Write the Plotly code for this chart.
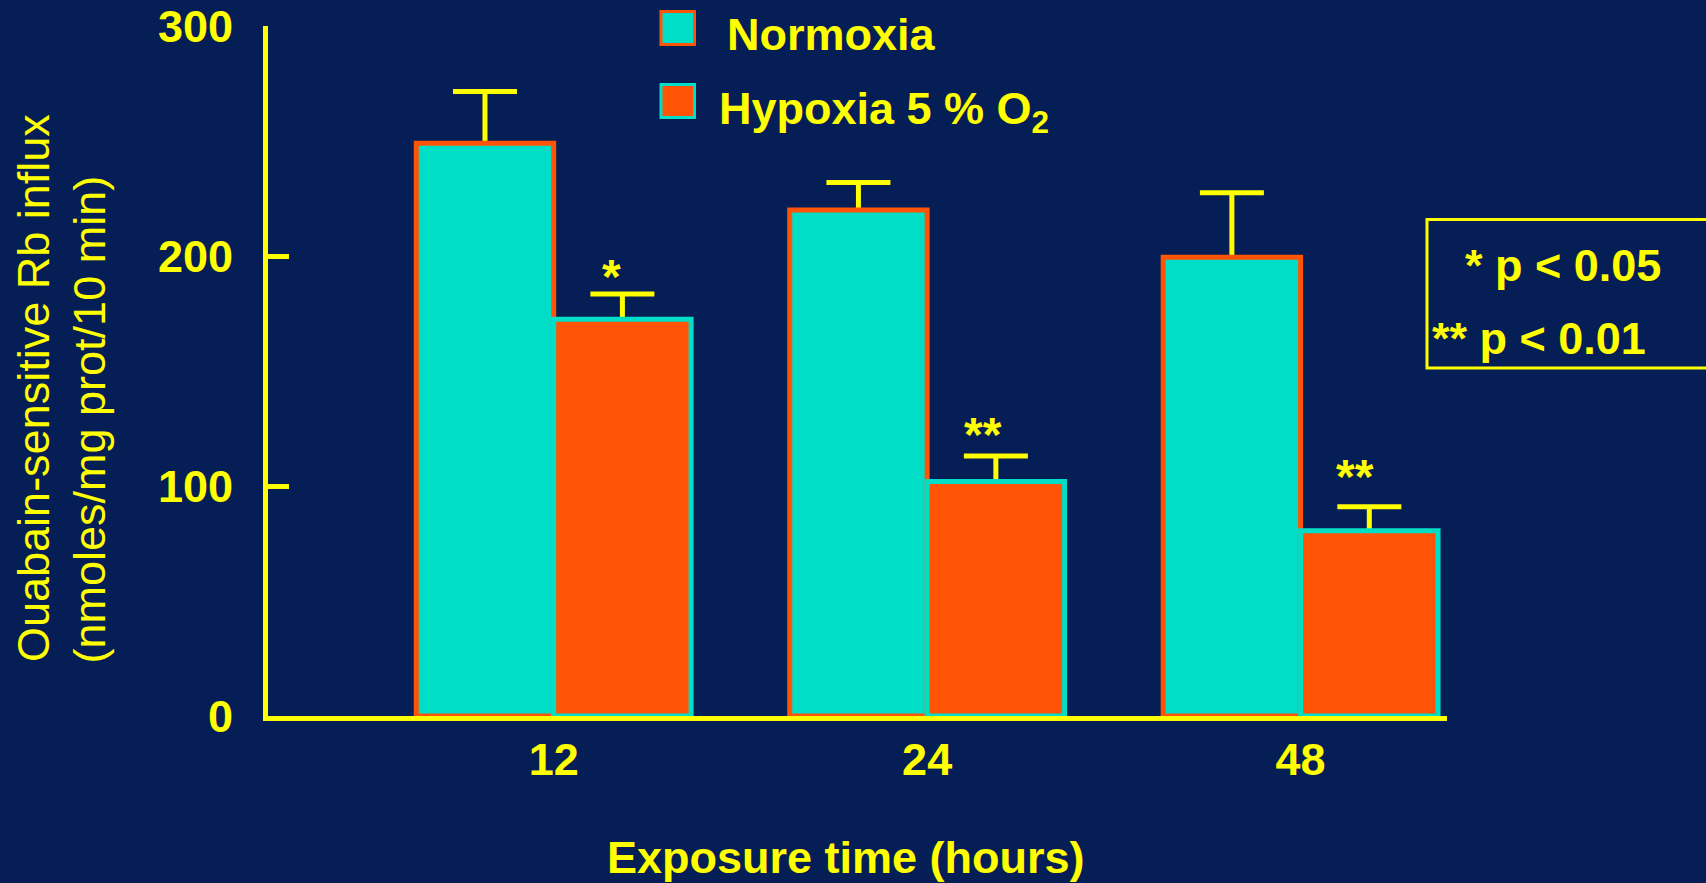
import numpy as np
import plotly.graph_objects as go

# ---- data -------------------------------------------------------------
times = ["12", "24", "48"]                 # exposure time (hours)
normoxia = [249, 220, 199.5]               # ouabain-sensitive Rb influx
normoxia_sem = [22.5, 12, 28]
hypoxia = [172.5, 102, 80.5]
hypoxia_sem = [11, 11, 10.5]
hypoxia_sig = ["*", "**", "**"]
y_ticks = [0, 100, 200, 300]

# ---- style ------------------------------------------------------------
BG = "#061E56"
CYAN = "#00DEC8"
ORANGE = "#FF5405"
YELLOW = "#FFFF00"
FONT = "Liberation Sans, Arial, Helvetica, sans-serif"

W, H = 1706, 883
ML, MR, MT, MB = 268, 259, 26, 167
PW = W - ML - MR
PH = H - MT - MB


def px(x):
    """page pixel x -> paper fraction"""
    return (x - ML) / PW


def py(y):
    """page pixel y -> paper fraction"""
    return (H - MB - y) / PH


pos = np.arange(len(times), dtype=float)
bw = 0.368
pos_n = pos - bw / 2
pos_h = pos + bw / 2

star_xshift = [-11, -13, -14]
star_yshift = [17, 22, 30]

fig = go.Figure()

# error bars sit on the base subplot so the bars (overlay subplot) hide their lower part
for xs, vals, sem in ((pos_n, normoxia, normoxia_sem), (pos_h, hypoxia, hypoxia_sem)):
    fig.add_trace(go.Scatter(
        x=xs, y=vals, mode="markers",
        marker=dict(size=1, color="rgba(0,0,0,0)"),
        error_y=dict(type="data", symmetric=False, array=sem, arrayminus=vals,
                     color=YELLOW, thickness=5, width=32),
        xaxis="x", yaxis="y", showlegend=False, hoverinfo="skip",
    ))

fig.add_trace(go.Bar(
    x=pos_n, y=normoxia, width=bw, name="Normoxia",
    marker=dict(color=CYAN, line=dict(color=ORANGE, width=5)),
    xaxis="x", yaxis="y2", showlegend=False,
))
fig.add_trace(go.Bar(
    x=pos_h, y=hypoxia, width=bw, name="Hypoxia 5 % O2",
    marker=dict(color=ORANGE, line=dict(color=CYAN, width=5)),
    xaxis="x", yaxis="y2", showlegend=False,
))

annotations = []

# significance marks above the hypoxia bars
for i, s in enumerate(hypoxia_sig):
    annotations.append(dict(
        x=pos_h[i], y=hypoxia[i] + hypoxia_sem[i], xref="x", yref="y",
        text=s, showarrow=False, xanchor="center", yanchor="middle",
        xshift=star_xshift[i], yshift=star_yshift[i],
        font=dict(family=FONT, size=48, color=YELLOW, weight="bold"),
    ))

# y-axis title, two lines
annotations.append(dict(
    x=px(34), y=py(388), xref="paper", yref="paper",
    text="Ouabain-sensitive Rb influx", textangle=-90, showarrow=False,
    xanchor="center", yanchor="middle",
    font=dict(family=FONT, size=45, color=YELLOW),
))
annotations.append(dict(
    x=px(88.5), y=py(420), xref="paper", yref="paper",
    text="(nmoles/mg prot/10 min)", textangle=-90, showarrow=False,
    xanchor="center", yanchor="middle",
    font=dict(family=FONT, size=45, color=YELLOW),
))

# x-axis title
annotations.append(dict(
    x=px(846), y=py(830), xref="paper", yref="paper",
    text="Exposure time (hours)", showarrow=False,
    xanchor="center", yanchor="top",
    font=dict(family=FONT, size=45, color=YELLOW, weight="bold"),
))

# legend
legend_items = [
    ("Normoxia", CYAN, ORANGE, 11.5, 725, 7),
    ("Hypoxia 5 % O<sub>2</sub>", ORANGE, CYAN, 84.5, 717, 81),
]
shapes = []
for label, fill, edge, sy, tx, ty in legend_items:
    shapes.append(dict(
        type="rect", xref="paper", yref="paper",
        x0=px(661), x1=px(694.5), y0=py(sy), y1=py(sy + 33),
        fillcolor=fill, line=dict(color=edge, width=3), layer="above",
    ))
    annotations.append(dict(
        x=px(tx), y=py(ty), xref="paper", yref="paper",
        text=label, showarrow=False, xanchor="left", yanchor="top",
        font=dict(family=FONT, size=45, color=YELLOW, weight="bold"),
    ))

# p-value key
shapes.append(dict(
    type="rect", xref="paper", yref="paper",
    x0=px(1427), x1=px(1712), y0=py(219.5), y1=py(368),
    line=dict(color=YELLOW, width=3), fillcolor="rgba(0,0,0,0)",
))
for txt, tx, ty in (("* p &lt; 0.05", 1463, 237.5), ("** p &lt; 0.01", 1429.5, 311)):
    annotations.append(dict(
        x=px(tx), y=py(ty), xref="paper", yref="paper",
        text=txt, showarrow=False, xanchor="left", yanchor="top",
        font=dict(family=FONT, size=45, color=YELLOW, weight="bold"),
    ))

fig.update_layout(
    width=W, height=H,
    margin=dict(l=ML, r=MR, t=MT, b=MB, pad=0, autoexpand=False),
    paper_bgcolor=BG, plot_bgcolor=BG,
    barmode="overlay",
    showlegend=False,
    font=dict(family=FONT, color=YELLOW),
    xaxis=dict(
        range=[-0.765, 2.392], tickvals=pos, ticktext=times,
        showgrid=False, zeroline=False, ticks="", automargin=False,
        showline=True, linecolor=YELLOW, linewidth=5,
        tickfont=dict(family=FONT, size=45, color=YELLOW, weight="bold"),
        ticklabelstandoff=0,
    ),
    yaxis=dict(
        range=[0, 300], tickvals=y_ticks, automargin=False,
        showgrid=False, zeroline=False,
        ticks="inside", ticklen=21, tickwidth=5, tickcolor=YELLOW,
        showline=True, linecolor=YELLOW, linewidth=5,
        tickfont=dict(family=FONT, size=45, color=YELLOW, weight="bold"),
        ticklabelstandoff=21,
    ),
    yaxis2=dict(range=[0, 300], overlaying="y", visible=False, automargin=False),
    annotations=annotations,
    shapes=shapes,
)

fig.write_html("out.html")
